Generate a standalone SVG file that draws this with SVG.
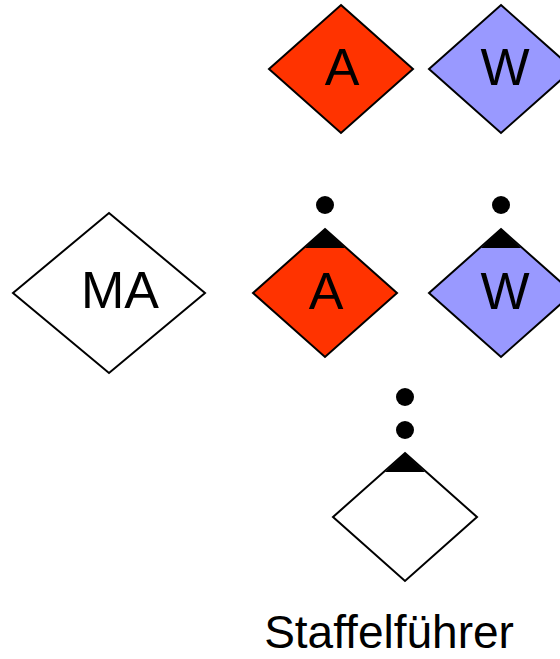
<svg xmlns="http://www.w3.org/2000/svg" width="560" height="659" viewBox="0 0 560 659">
<style>
.d{stroke:#000;stroke-width:2;stroke-linejoin:miter}
.red{fill:#ff3300}
.blue{fill:#9999ff}
.white{fill:#fff}
.t{font-family:"Liberation Sans",Arial,sans-serif;font-size:52px;fill:#000;text-anchor:middle}
.lbl{font-family:"Liberation Sans",Arial,sans-serif;font-size:46px;fill:#000;text-anchor:middle}
.cap{fill:#000}
</style>
<rect width="560" height="659" fill="#fff"/>
<g id="connectors">
<circle cx="325" cy="205" r="9" class="cap"/>
<circle cx="501" cy="205" r="9" class="cap"/>
<circle cx="405" cy="397" r="9" class="cap"/>
<circle cx="405" cy="430" r="9" class="cap"/>
</g>
<g id="nodeA1">
<polygon class="d red" points="341,5 413,69 341,133 269,69"/>
<text class="t" x="342" y="85">A</text>
</g>
<g id="nodeW1">
<polygon class="d blue" points="501,5 573,69 501,133 429,69"/>
<text class="t" x="505" y="85">W</text>
</g>
<g id="nodeMA">
<polygon class="d white" points="109,213 205,293 109,373 13,293"/>
<text class="t" x="120" y="308">MA</text>
</g>
<g id="nodeA2">
<polygon class="d red" points="325,229 397,293 325,357 253,293"/>
<polygon class="cap" points="325,229 345,248 305,248"/>
<text class="t" x="326" y="309">A</text>
</g>
<g id="nodeW2">
<polygon class="d blue" points="501,229 573,293 501,357 429,293"/>
<polygon class="cap" points="501,229 521,248 481,248"/>
<text class="t" x="505" y="309">W</text>
</g>
<g id="nodeS">
<polygon class="d white" points="405,453 477,517 405,581 333,517"/>
<polygon class="cap" points="405,453 425,472 385,472"/>
</g>
<text class="lbl" x="389" y="648">Staffelführer</text>
</svg>
